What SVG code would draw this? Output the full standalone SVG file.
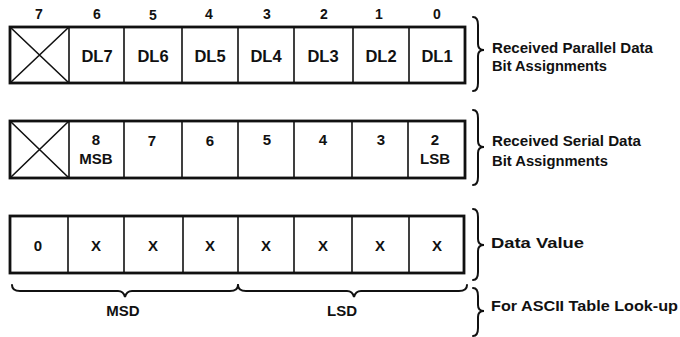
<svg xmlns="http://www.w3.org/2000/svg" width="680" height="337" viewBox="0 0 680 337">
<style>
  text { font-family: "Liberation Sans", Arial, sans-serif; font-weight: bold; fill: #111; }
  .hd { font-size: 14px; text-anchor: middle; }
  .dl { font-size: 16.5px; text-anchor: middle; }
  .c { font-size: 15px; text-anchor: middle; }
  .lb { font-size: 14px; }
  .outer { fill: #fff; stroke: #111; stroke-width: 2.8; }
  .div { stroke: #111; stroke-width: 1.6; fill: none; }
  .brace { stroke: #111; stroke-width: 2; fill: none; stroke-linecap: round; }
</style>
<rect width="680" height="337" fill="#fff"/>

<g id="header">
  <text class="hd" x="39" y="19">7</text>
  <text class="hd" x="97" y="19">6</text>
  <text class="hd" x="153" y="20">5</text>
  <text class="hd" x="209" y="19">4</text>
  <text class="hd" x="267" y="19">3</text>
  <text class="hd" x="324" y="19">2</text>
  <text class="hd" x="379" y="19">1</text>
  <text class="hd" x="437" y="19">0</text>
</g>

<g id="row-parallel">
  <rect class="outer" x="10" y="27" width="455" height="56"/>
  <path class="div" d="M69,27V83M124,27V83M182,27V83M238,27V83M294,27V83M353,27V83M409,27V83"/>
  <path class="div" d="M10,27L69,83M69,27L10,83"/>
  <text class="dl" x="97" y="62">DL7</text>
  <text class="dl" x="153" y="62">DL6</text>
  <text class="dl" x="210" y="62">DL5</text>
  <text class="dl" x="266" y="62">DL4</text>
  <text class="dl" x="323" y="62">DL3</text>
  <text class="dl" x="381" y="62">DL2</text>
  <text class="dl" x="437" y="62">DL1</text>
</g>

<g id="row-serial">
  <rect class="outer" x="10" y="121" width="455" height="57"/>
  <path class="div" d="M69,121V178M124,121V178M182,121V178M238,121V178M294,121V178M352,121V178M408,121V178"/>
  <path class="div" d="M10,121L69,178M69,121L10,178"/>
  <text class="c" x="96" y="145">8</text>
  <text class="c" x="96" y="164">MSB</text>
  <text class="c" x="152" y="146">7</text>
  <text class="c" x="210" y="146">6</text>
  <text class="c" x="267" y="145">5</text>
  <text class="c" x="323" y="145">4</text>
  <text class="c" x="381" y="145">3</text>
  <text class="c" x="435" y="145">2</text>
  <text class="c" x="435" y="164">LSB</text>
</g>

<g id="row-value">
  <rect class="outer" x="10" y="216" width="454" height="57"/>
  <path class="div" d="M68,216V273M124,216V273M183,216V273M238,216V273M294,216V273M352,216V273M409,216V273"/>
  <text class="c" x="38" y="251">0</text>
  <text class="c" x="96" y="251">X</text>
  <text class="c" x="153" y="251">X</text>
  <text class="c" x="210" y="251">X</text>
  <text class="c" x="266" y="251">X</text>
  <text class="c" x="323" y="251">X</text>
  <text class="c" x="380" y="251">X</text>
  <text class="c" x="437" y="251">X</text>
</g>

<g id="connectors">
  <path class="brace" d="M473,17C477,17 478,20 478,25L478,44C478,48 480,50 484,50C480,50 478,52 478,56L478,83C478,88 477,91 473,91"/>
  <path class="brace" d="M473,110C477,110 478,113 478,118L478,141C478,145 480,147 484,147C480,147 478,149 478,153L478,177C478,182 477,185 473,185"/>
  <path class="brace" d="M473,209C477,209 478,212 478,217L478,239C478,243 480,245 484,245C480,245 478,247 478,251L478,272C478,277 477,280 473,280"/>
  <path class="brace" d="M473,288C477,288 478,291 478,296L478,305C478,309 480,311 484,311C480,311 478,313 478,317L478,328C478,333 477,336 473,336"/>
  <path class="brace" d="M12,285C12,289 15,291 20,291L118,291C122,291 124,293 125,297C126,293 128,291 132,291L230,291C235,291 238,289 238,285"/>
  <path class="brace" d="M238,285C238,289 241,291 246,291L347,291C351,291 353,293 354,297C355,293 357,291 361,291L459,291C464,291 467,289 467,285"/>
</g>

<g id="labels">
  <text class="lb" x="492" y="53" textLength="161" lengthAdjust="spacingAndGlyphs">Received Parallel Data</text>
  <text class="lb" x="492" y="71" textLength="115" lengthAdjust="spacingAndGlyphs">Bit Assignments</text>
  <text class="lb" x="492" y="146" textLength="149" lengthAdjust="spacingAndGlyphs">Received Serial Data</text>
  <text class="lb" x="492" y="166" textLength="116" lengthAdjust="spacingAndGlyphs">Bit Assignments</text>
  <text class="lb" x="491" y="248" textLength="93" lengthAdjust="spacingAndGlyphs">Data Value</text>
  <text class="lb" x="491" y="311" textLength="187" lengthAdjust="spacingAndGlyphs">For ASCII Table Look-up</text>
  <text class="c" x="123" y="316">MSD</text>
  <text class="c" x="342" y="316">LSD</text>
</g>
</svg>
